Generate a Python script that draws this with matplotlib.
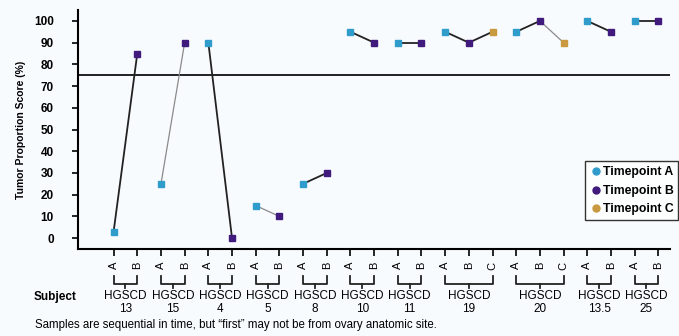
import matplotlib
matplotlib.use("Agg")
import matplotlib.pyplot as plt

plt.rcParams['font.family'] = ['Liberation Sans', 'DejaVu Sans']

subjects = ["13", "15", "4", "5", "8", "10", "11", "19", "20", "13.5", "25"]
timepoints = [["A", "B"], ["A", "B"], ["A", "B"], ["A", "B"], ["A", "B"],
              ["A", "B"], ["A", "B"], ["A", "B", "C"], ["A", "B", "C"],
              ["A", "B"], ["A", "B"]]
scores = [[3, 85], [25, 90], [90, 0], [15, 10], [25, 30],
          [95, 90], [90, 90], [95, 90, 95], [95, 100, 90],
          [100, 95], [100, 100]]
threshold = 75

colors = {"A": "#2f9ccb", "B": "#401a7c", "C": "#c9993f"}
seg_gray = {(1, 0), (3, 0), (8, 1)}  # thinner grey connecting segments

fig = plt.figure(figsize=(6.79, 3.36), dpi=100)
fig.patch.set_facecolor("#f8fbfd")
ax = fig.add_axes([0.115, 0.259, 0.872, 0.711])
ax.set_facecolor("#f8fbfd")

xpos = 0
tick_x, tick_lab = [], []
groups = []
for gi, (subj, tps, vals) in enumerate(zip(subjects, timepoints, scores)):
    xs = list(range(xpos, xpos + len(tps)))
    for si in range(len(xs) - 1):
        gray = (gi, si) in seg_gray
        ax.plot(xs[si:si + 2], vals[si:si + 2],
                color="#8a8a8a" if gray else "#222222",
                lw=0.9 if gray else 1.3, zorder=2)
    for x, tp, v in zip(xs, tps, vals):
        ax.plot(x, v, "s", color=colors[tp], ms=4.5, zorder=3)
    tick_x += xs
    tick_lab += tps
    groups.append((xs[0], xs[-1], subj))
    xpos += len(tps)

ax.axhline(threshold, color="#222222", lw=1.4, zorder=1)

ax.set_xlim(-1.5, xpos - 0.5)
ax.set_ylim(-5, 105)
ax.set_yticks(range(0, 101, 10))
ax.set_xticks(tick_x)
ax.set_xticklabels(tick_lab, rotation=90, fontsize=8)
ax.tick_params(axis="x", length=5, width=1.2, pad=4)
ax.tick_params(axis="y", length=4.5, width=1.2, labelsize=8.5, pad=13)
for lab in ax.get_yticklabels():
    lab.set_fontweight("bold")
for s in ["top", "right"]:
    ax.spines[s].set_visible(False)
for s in ["left", "bottom"]:
    ax.spines[s].set_linewidth(1.5)
ax.set_ylabel("Tumor Proportion Score (%)", fontsize=7.5, fontweight="bold",
              labelpad=6)

tr = ax.get_xaxis_transform()
y0, y1, y2 = -0.115, -0.145, -0.165
for x0, x1, subj in groups:
    ax.plot([x0, x0, x1, x1], [y0, y1, y1, y0], color="#222222", lw=1.3,
            transform=tr, clip_on=False)
    xm = (x0 + x1) / 2
    ax.plot([xm, xm], [y1, y2], color="#222222", lw=1.3,
            transform=tr, clip_on=False)
    ax.text(xm, -0.172, "HGSCD\n" + subj, transform=tr, ha="center",
            va="top", fontsize=8.5, linespacing=1.05)
ax.text(-0.002, -0.2, "Subject", transform=ax.transAxes, ha="right",
        va="center", fontsize=8.5, fontweight="bold")

fig.text(0.051, 0.032, "Samples are sequential in time, but \u201cfirst\u201d may "
         "not be from ovary anatomic site.", fontsize=8.3, va="center")

handles = [ax.plot([], [], "o", color=colors[k], ms=5, label="Timepoint " + k)[0]
           for k in ["A", "B", "C"]]
leg = ax.legend(handles=handles, loc="lower right",
                bbox_to_anchor=(1.0135, 0.12), prop={"weight": "bold", "size": 8.8},
                frameon=True, fancybox=False, edgecolor="black",
                handletextpad=0.1, handlelength=0.9, borderpad=0.4,
                handleheight=0.6, labelspacing=0.55, borderaxespad=0)
leg.get_frame().set_linewidth(1.0)

fig.savefig("out.png", dpi=100, facecolor=fig.get_facecolor())
